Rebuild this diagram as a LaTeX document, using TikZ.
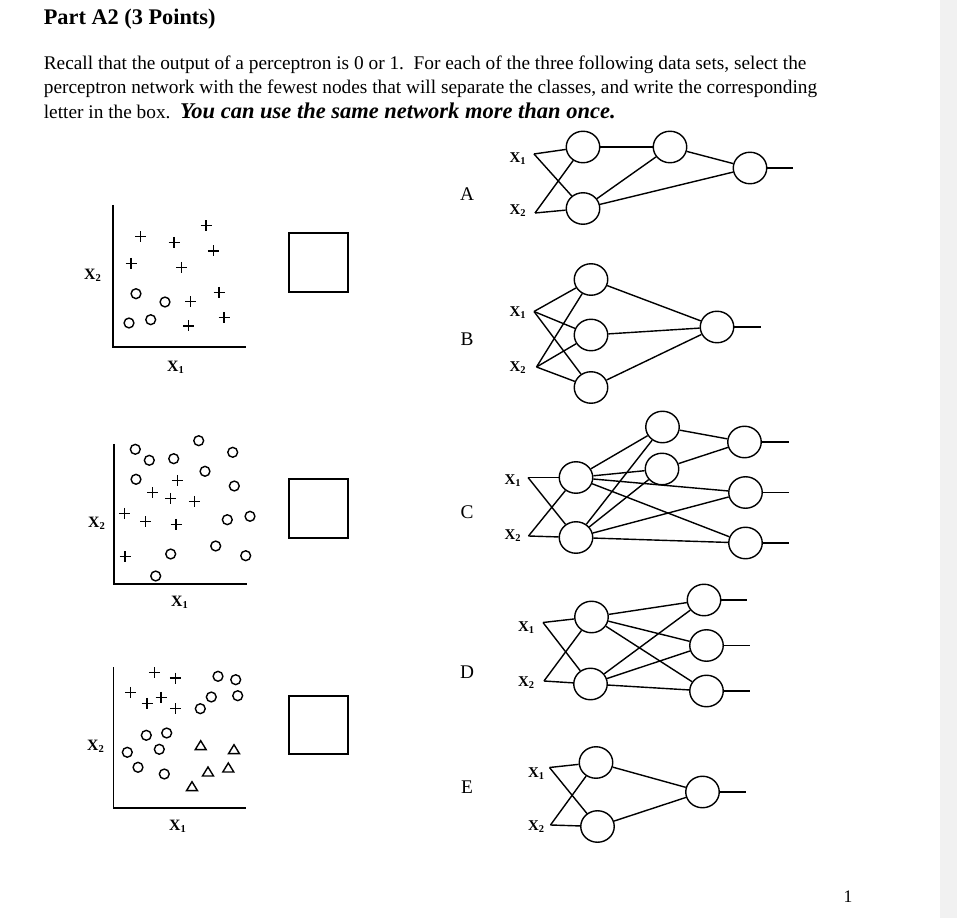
\documentclass[tikz,border=0pt]{standalone}
\usepackage{fontspec}
\setmainfont{Liberation Serif}
\usetikzlibrary{shapes.geometric}
\definecolor{strip}{RGB}{241,241,241}
\tikzset{
  neuron/.style={ellipse,draw,line width=0.8pt,minimum width=0.67cm,minimum height=0.63cm,inner sep=0pt},
  wire/.style={line width=0.8pt},
  xlab/.style={font=\fontsize{8.5}{9}\selectfont\bfseries,inner sep=0pt},
  axlab/.style={font=\fontsize{9}{10}\selectfont\bfseries,inner sep=0pt},
  netletter/.style={font=\fontsize{11}{13}\selectfont,inner sep=0pt},
  ansbox/.style={draw,line width=1pt,minimum size=1.17cm,inner sep=0pt},
  bodyline/.style={anchor=base west,inner sep=0pt,font=\fontsize{11}{13}\selectfont},
  axis/.style={line width=0.75pt},
  % marks of the data sets
  pics/plusmark/.style={code={
    \draw[line width=0.8pt] (-5.5,0) -- (5.5,0) (0,-5.5) -- (0,5.5);
  }},
  pics/omark/.style={code={
    \draw[line width=0.8pt] (0,0) circle (2.8pt);
  }},
  pics/trimark/.style={code={
    \draw[line width=0.8pt] (0,-5) -- (5.5,4) -- (-5.5,4) -- cycle;
  }},
}
\begin{document}
\begin{tikzpicture}[x=0.02cm,y=-0.02cm]
  \useasboundingbox (0,0) rectangle (957,918);
  \fill[white] (0,0) rectangle (957,918);
  \fill[strip] (940,0) rectangle (957,918);

  % heading and question
  \node[anchor=base west,inner sep=0pt,font=\fontsize{12.7}{15}\selectfont\bfseries] (title) at (43.5,25) {Part A2 (3 Points)};
  \node[bodyline] (line1) at (43.5,69.5) {Recall that the output of a perceptron is 0 or 1.\ \ For each of the three following data sets, select the};
  \node[bodyline] (line2) at (43.5,94) {perceptron network with the fewest nodes that will separate the classes, and write the corresponding};
  \node[bodyline] (line3) at (43.5,118.5) {letter in the box.\ \ {\fontsize{12.8}{15}\selectfont\bfseries\itshape You can use the same network more than once.}};

  % data set 1
  \draw[axis] (113,205) -- (113,347) -- (246,347);
  \node[axlab] (d1-x2) at (93,275) {X\textsubscript{2}};
  \node[axlab] (d1-x1) at (176,367) {X\textsubscript{1}};
  \foreach \x/\y in {140.7/236.7,174/242.3,206/225.7,213.3/251,131/263.3,181.7/267.3,219/292.3,190.7/301.7,224/317.7,188.7/326}
    \pic at (\x,\y) {plusmark};
  \foreach \x/\y in {136/293.7,165/302,150.7/319.7,129/323}
    \pic at (\x,\y) {omark};
  \node[ansbox] (box1) at (318.5,262.5) {};

  % data set 2
  \draw[axis] (114,444) -- (114,584) -- (247,584);
  \node[axlab] (d2-x2) at (97,523) {X\textsubscript{2}};
  \node[axlab] (d2-x1) at (180,602) {X\textsubscript{1}};
  \foreach \x/\y in {177.3/480.3,152.7/492.7,170.7/498.3,194.3/501.3,124.3/513.3,145.7/521.7,176/524.3,125/556.7}
    \pic at (\x,\y) {plusmark};
  \foreach \x/\y in {135.3/449.3,149.3/460.3,173.7/458.7,198.7/440.7,232.7/452.3,205/471.3,136/479.3,234.3/486,227.3/519.7,250/516.3,215.7/546,170.7/554,245.7/555.7,155.7/576}
    \pic at (\x,\y) {omark};
  \node[ansbox] (box2) at (318.5,508.5) {};

  % data set 3
  \draw[axis] (113.5,667) -- (113.5,808) -- (246,808);
  \node[axlab] (d3-x2) at (96,746) {X\textsubscript{2}};
  \node[axlab] (d3-x1) at (178,826) {X\textsubscript{1}};
  \foreach \x/\y in {154.3/672.7,175.3/678,130.7/692.3,161/697.3,147/703.3,175.7/708.7}
    \pic at (\x,\y) {plusmark};
  \foreach \x/\y in {218/676.3,235.7/679.7,211.3/697,237.7/695.7,200.3/708.7,146.3/735.3,166.7/733,127.3/752.3,159.3/749.3,138/767.3,164.3/774}
    \pic at (\x,\y) {omark};
  \foreach \x/\y in {200.7/745.7,234/749.7,208/772,228.3/768,192/786.7}
    \pic at (\x,\y) {trimark};
  \node[ansbox] (box3) at (318.5,725) {};

  % network A
  \node[netletter] (lA) at (467,194) {A};
  \node[xlab] (a-x1) at (518,159) {X\textsubscript{1}};
  \node[xlab] (a-x2) at (518,211) {X\textsubscript{2}};
  \coordinate (a-p1) at (534,154);
  \coordinate (a-p2) at (535,213);
  \node[neuron] (a-h1) at (583,147) {};
  \node[neuron] (a-h2) at (583,208.5) {};
  \node[neuron] (a-m) at (670,147) {};
  \node[neuron] (a-o) at (750,168) {};
  \coordinate (a-end) at (793,168);
  \foreach \s/\t in {a-p1/a-h1,a-p1/a-h2,a-p2/a-h1,a-p2/a-h2,a-h1/a-m,a-h2/a-m,a-h2/a-o,a-m/a-o,a-o/a-end}
    \draw[wire] (\s) -- (\t);

  % network B
  \node[netletter] (lB) at (467,339) {B};
  \node[xlab] (b-x1) at (518,313) {X\textsubscript{1}};
  \node[xlab] (b-x2) at (518,368) {X\textsubscript{2}};
  \coordinate (b-p1) at (534,311.5);
  \coordinate (b-p2) at (536.5,367);
  \node[neuron] (b-h1) at (591,279.5) {};
  \node[neuron] (b-h2) at (591,335) {};
  \node[neuron] (b-h3) at (591,387.5) {};
  \node[neuron] (b-o) at (717,327) {};
  \coordinate (b-end) at (761,327);
  \foreach \s in {b-p1,b-p2}
    \foreach \t in {b-h1,b-h2,b-h3}
      \draw[wire] (\s) -- (\t);
  \foreach \s in {b-h1,b-h2,b-h3}
    \draw[wire] (\s) -- (b-o);
  \draw[wire] (b-o) -- (b-end);

  % network C
  \node[netletter] (lC) at (467,512) {C};
  \node[xlab] (c-x1) at (513,481) {X\textsubscript{1}};
  \node[xlab] (c-x2) at (513,536) {X\textsubscript{2}};
  \coordinate (c-p1) at (528,477.5);
  \coordinate (c-p2) at (528.5,536);
  \node[neuron] (c-h1) at (576,477.5) {};
  \node[neuron] (c-h2) at (576,537.5) {};
  \node[neuron] (c-m1) at (662.5,427) {};
  \node[neuron] (c-m2) at (662,469) {};
  \node[neuron] (c-o1) at (744.5,442) {};
  \node[neuron] (c-o2) at (745.5,492.5) {};
  \node[neuron] (c-o3) at (745.5,543) {};
  \coordinate (c-e1) at (788.5,442);
  \coordinate (c-e2) at (788.5,492.5);
  \coordinate (c-e3) at (788.5,543);
  \foreach \s in {c-p1,c-p2}
    \foreach \t in {c-h1,c-h2}
      \draw[wire] (\s) -- (\t);
  \foreach \s in {c-h1,c-h2}
    \foreach \t in {c-m1,c-m2,c-o2,c-o3}
      \draw[wire] (\s) -- (\t);
  \foreach \s/\t in {c-m1/c-o1,c-m2/c-o1,c-o1/c-e1,c-o2/c-e2,c-o3/c-e3}
    \draw[wire] (\s) -- (\t);

  % network D
  \node[netletter] (lD) at (467,672) {D};
  \node[xlab] (d-x1) at (526.5,627.5) {X\textsubscript{1}};
  \node[xlab] (d-x2) at (526.5,682.5) {X\textsubscript{2}};
  \coordinate (d-p1) at (543,622.5);
  \coordinate (d-p2) at (544,681);
  \node[neuron] (d-h1) at (591.5,617) {};
  \node[neuron] (d-h2) at (590.5,684) {};
  \node[neuron] (d-o1) at (704,600) {};
  \node[neuron] (d-o2) at (706.5,645.5) {};
  \node[neuron] (d-o3) at (706.5,691) {};
  \coordinate (d-e1) at (747,600);
  \coordinate (d-e2) at (749.5,645.5);
  \coordinate (d-e3) at (749.5,691);
  \foreach \s in {d-p1,d-p2}
    \foreach \t in {d-h1,d-h2}
      \draw[wire] (\s) -- (\t);
  \foreach \s in {d-h1,d-h2}
    \foreach \t in {d-o1,d-o2,d-o3}
      \draw[wire] (\s) -- (\t);
  \foreach \s/\t in {d-o1/d-e1,d-o2/d-e2,d-o3/d-e3}
    \draw[wire] (\s) -- (\t);

  % network E
  \node[netletter] (lE) at (467,787) {E};
  \node[xlab] (e-x1) at (536.5,773.5) {X\textsubscript{1}};
  \node[xlab] (e-x2) at (536.5,826.5) {X\textsubscript{2}};
  \coordinate (e-p1) at (549.5,767.5);
  \coordinate (e-p2) at (550.5,825);
  \node[neuron] (e-h1) at (596,762.5) {};
  \node[neuron] (e-h2) at (597.5,826.5) {};
  \node[neuron] (e-o) at (702.5,792) {};
  \coordinate (e-end) at (745.5,792);
  \foreach \s in {e-p1,e-p2}
    \foreach \t in {e-h1,e-h2}
      \draw[wire] (\s) -- (\t);
  \foreach \s/\t in {e-h1/e-o,e-h2/e-o,e-o/e-end}
    \draw[wire] (\s) -- (\t);

  % page number
  \node[font=\fontsize{10}{12}\selectfont,inner sep=0pt] (page) at (848,897) {1};
\end{tikzpicture}
\end{document}
